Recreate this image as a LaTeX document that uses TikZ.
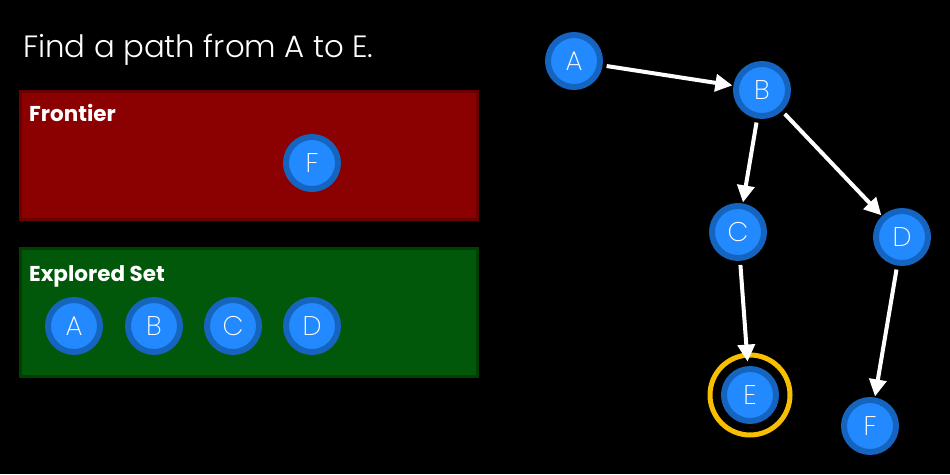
\documentclass[tikz,border=0pt]{standalone}
\usepackage{fontspec}
\setmainfont{Poppins}[UprightFont=* Light, BoldFont=* Bold]
\newfontfamily\thinfont{Poppins ExtraLight}
\usetikzlibrary{arrows.meta}
\definecolor{ringblue}{HTML}{1565C0}
\definecolor{fillblue}{HTML}{2389FF}
\definecolor{boxred}{HTML}{8B0000}
\definecolor{boxredline}{HTML}{6A0000}
\definecolor{boxgreen}{HTML}{01580A}
\definecolor{boxgreenline}{HTML}{013F02}
\definecolor{goalyellow}{HTML}{F8BF00}
\tikzset{
  vertex/.style={circle, draw=ringblue, fill=fillblue, line width=6pt, minimum size=52pt, inner sep=0pt,
    text=white, font=\thinfont\fontsize{27}{27}\selectfont},
  edge/.style={draw=white, line width=4pt, -{Triangle[length=17pt,width=17pt]}, shorten <=4pt, shorten >=1pt},
  boxlabel/.style={anchor=base west, text=white, font=\fontsize{21.5}{21.5}\selectfont\bfseries, inner sep=0pt},
  goalring/.style={circle, draw=goalyellow, line width=5pt, minimum size=80pt, inner sep=0pt}
}
\begin{document}
\begin{tikzpicture}[x=1pt, y=-1pt]
\useasboundingbox[fill=black] (0,0) rectangle (950,474);
\node[anchor=base west, text=white, inner sep=0pt, font=\fontsize{30.8}{31}\selectfont] (title) at (23,57) {Find a path from A to E.};
% boxes
\draw[fill=boxred, draw=boxredline, line width=3pt] (20.5,91.5) rectangle (477.5,219.5);
\node[boxlabel] (frontierlabel) at (29,121) {Frontier};
\draw[fill=boxgreen, draw=boxgreenline, line width=3pt] (20.5,248.5) rectangle (477.5,376.5);
\node[boxlabel] (exploredlabel) at (29,281) {Explored Set};
\node[vertex] (fF) at (312,163) {F};
\node[vertex] (eA) at (74,326) {A};
\node[vertex] (eB) at (154,326) {B};
\node[vertex] (eC) at (233,326) {C};
\node[vertex] (eD) at (312,326) {D};
% graph
\node[vertex] (A) at (574,61) {A};
\node[vertex] (B) at (762,90) {B};
\node[vertex] (C) at (738,232) {C};
\node[vertex] (D) at (902,237) {D};
\node[vertex] (E) at (750,395) {E};
\node[vertex] (F) at (870,426) {F};
\node[goalring] (goal) at (750,395) {};
\draw[edge] (A) -- (B);
\draw[edge] (B) -- (C);
\draw[edge] (B) -- (D);
\draw[edge, shorten >=-9pt] (C) -- (goal);
\draw[edge] (D) -- (F);
\end{tikzpicture}
\end{document}
